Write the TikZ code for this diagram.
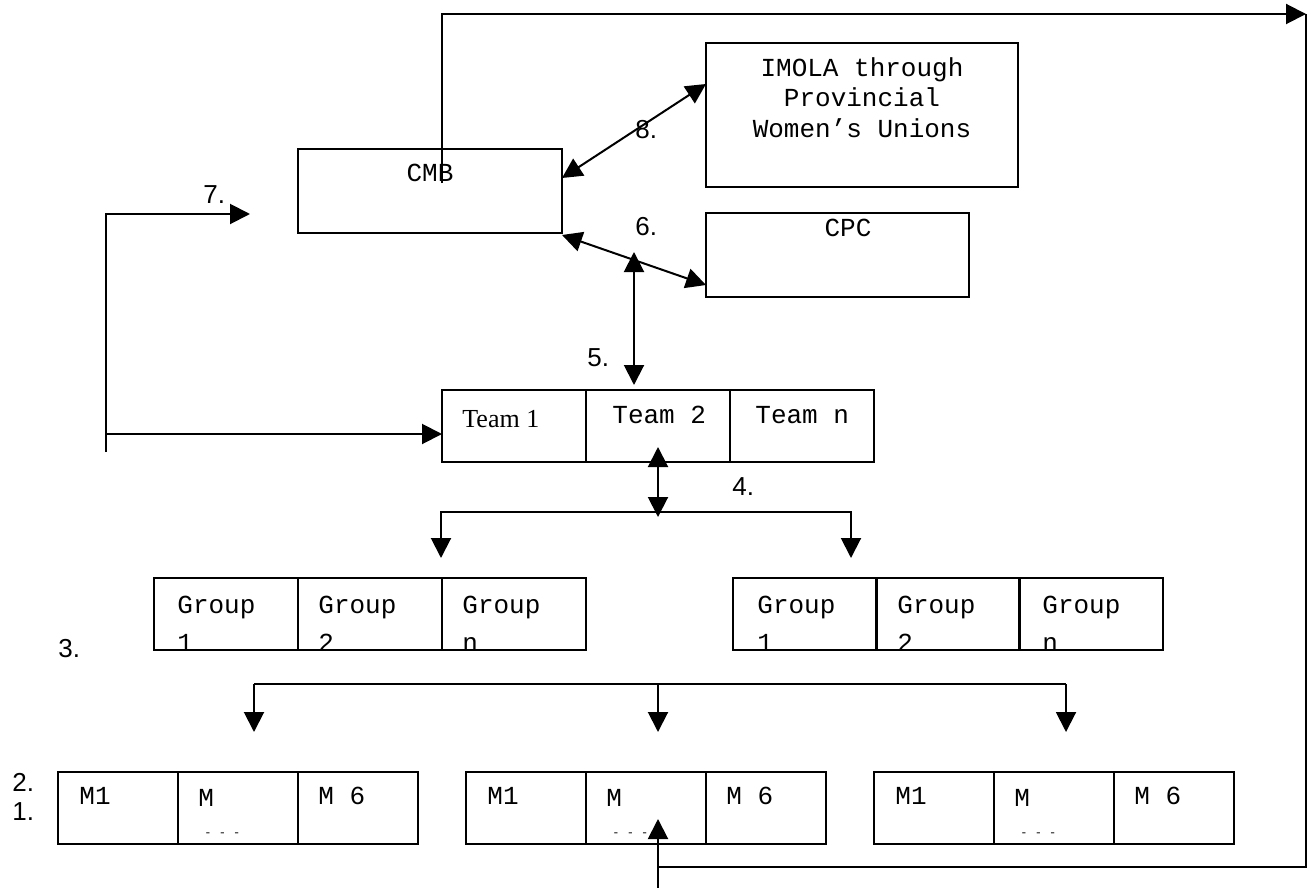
\documentclass[tikz,border=0pt]{standalone}
\usepackage{fontspec}
\setmainfont{Liberation Serif}
\newfontfamily\monofnt{Liberation Mono}
\newfontfamily\sansfnt{Liberation Sans}
\usetikzlibrary{arrows.meta,calc}
\begin{document}
\begin{tikzpicture}[x=0.5pt,y=-0.5pt,
  box/.style={draw,line width=1pt,minimum width=72pt,minimum height=36pt,inner sep=0pt,outer sep=0pt},
  cell/.style={box,minimum width=60pt},
  ln/.style={line width=1pt},
  arr/.style={ln,-{Triangle[length=10pt,width=10pt]}},
  darr/.style={ln,{Triangle[length=10pt,width=10pt]}-{Triangle[length=10pt,width=10pt]}},
  mtxt/.style={font=\monofnt\fontsize{13pt}{15pt}\selectfont,inner sep=0pt,anchor=base west},
  ctxt/.style={font=\monofnt\fontsize{13pt}{15pt}\selectfont,inner sep=0pt,anchor=base},
  stxt/.style={font=\fontsize{13pt}{15pt}\selectfont,inner sep=0pt,anchor=base west},
  lbl/.style={font=\sansfnt\fontsize{13pt}{15pt}\selectfont,inner sep=0pt,anchor=base west},
  dots/.style={font=\monofnt\fontsize{6pt}{6pt}\selectfont,inner sep=0pt,anchor=base west}
]
\useasboundingbox (0,0) rectangle (1311,888);

% main boxes
\node[box,minimum width=132pt,minimum height=42pt] (cmb) at (430,191) {};
\node[box,minimum width=156pt,minimum height=72pt] (imola) at (862,115) {};
\node[box,minimum width=131.5pt,minimum height=42pt] (cpc) at (837.5,255) {};
\node[ctxt] (cmbt) at (430,181) {CMB};
\node[ctxt] (cpct) at (848,236) {CPC};
\node[ctxt] (im1) at (862,77) {IMOLA through};
\node[ctxt] (im2) at (862,107) {Provincial};
\node[ctxt] (im3) at (862,137) {Women’s Unions};

% teams
\node[box] (t1) at (514,426) {};
\node[box] (t2) at (658,426) {};
\node[box] (t3) at (802,426) {};
\node[stxt] (t1t) at (462,427) {Team 1};
\node[mtxt] (t2t) at (612,423) {Team 2};
\node[mtxt] (t3t) at (755,423) {Team n};

% groups
\node[box] (ga1) at (226,614) {};
\node[box] (ga2) at (370,614) {};
\node[box] (ga3) at (514,614) {};
\node[box] (gb1) at (805,614) {};
\node[box] (gb2) at (948,614) {};
\node[box] (gb3) at (1091,614) {};
\foreach \g/\dx/\s in {ga1/23/1,ga2/20/2,ga3/20/n,gb1/24/1,gb2/21/2,gb3/23/n}{
  \node[mtxt] (\g t) at ($(\g.north west)+(\dx,35)$) {Group};
  \begin{scope}
    \clip (\g.south west) rectangle (\g.north east);
    \node[mtxt] (\g s) at ($(\g.south west)+(\dx,1)$) {\s};
  \end{scope}
}

% M boxes
\foreach \m/\cx in {mA1/118,mA2/238,mA3/358,mB1/526,mB2/646,mB3/766,mC1/934,mC2/1054,mC3/1174}{
  \node[cell] (\m) at (\cx,808) {};
}
\foreach \m in {mA,mB,mC}{
  \node[mtxt] (\m1t) at ($(\m1.north west)+(21,32)$) {M1};
  \node[mtxt] (\m2t) at ($(\m2.north west)+(20,34)$) {M};
  \node[dots] (\m2d) at ($(\m2.north west)+(26,64)$) {- - -};
  \node[mtxt] (\m3t) at ($(\m3.north west)+(20,32)$) {M 6};
}

% labels
\node[lbl] (l8) at (635,139) {8.};
\node[lbl] (l6) at (635,235) {6.};
\node[lbl] (l5) at (587,366) {5.};
\node[lbl] (l7) at (203,203) {7.};
\node[lbl] (l4) at (732,495) {4.};
\node[lbl] (l3) at (58,657) {3.};
\node[lbl] (l2) at (12,791) {2.};
\node[lbl] (l1) at (12,820) {1.};

% connectors
\draw[darr] ($(cmb.east)+(0,-13)$) -- ($(imola.west)+(0,-31)$);
\draw[darr] ($(cmb.east)+(0,44)$) -- ($(cpc.west)+(0,30)$);
\coordinate (c5) at (634,252);
\draw[darr] (c5) -- ($(t2.north)+(-24,-5)$);

\coordinate (j4) at (658,512);
\draw[darr] ($(t2.south)+(0,-15)$) -- ($(j4)+(0,5)$);
\draw[arr] (j4) -| ($(ga3.north west)+(-1,-20)$);
\draw[arr] (j4) -| ($(gb1.north east)+(-26,-20)$);

\coordinate (j3L) at (254,684);
\coordinate (j3M) at (658,684);
\coordinate (j3R) at (1066,684);
\draw[ln] (j3L) -- (j3R);
\draw[arr] (j3L) -- ($(mA2.north)+(16,-40)$);
\draw[arr] (j3M) -- ($(mB2.north)+(12,-40)$);
\draw[arr] (j3R) -- ($(mC2.north)+(12,-40)$);

\coordinate (c7b) at (106,452);
\draw[arr] (c7b) |- ($(cmb.west)+(-48,23)$);
\draw[arr] ($(c7b)+(0,-18)$) -- ($(t1.west)+(0,8)$);

\coordinate (c1) at ($(cmb.north)+(12,34)$);
\coordinate (c2) at (1306,14);
\coordinate (c4) at (658,867);
\coordinate (c6) at (658,888);
\draw[arr] (c1) |- (c2);
\draw[ln] (c2) |- (c4);
\draw[arr] (c6) -- ($(mB2.south)+(12,-25)$);
\end{tikzpicture}
\end{document}
